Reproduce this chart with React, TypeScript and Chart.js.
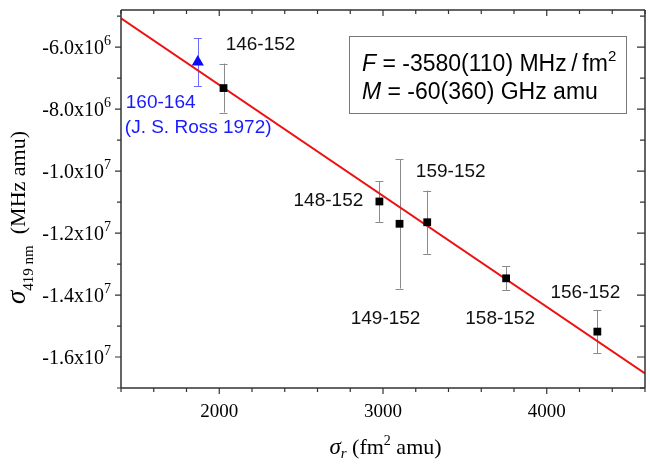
import React, { useEffect, useRef } from "react";
import { Chart, registerables } from "chart.js";

Chart.register(...registerables);

// ---------- data ----------
const isotopePairs = ["146-152", "148-152", "149-152", "159-152", "158-152", "156-152"];
const sigmaR = [2026, 2978, 3101, 3270, 3752, 4309];
const sigma419 = [-7.32e6, -1.098e7, -1.17e7, -1.165e7, -1.346e7, -1.518e7];
const sigma419Err = [0.79e6, 0.66e6, 2.09e6, 1.02e6, 0.39e6, 0.7e6];

const rossPair = "160-164";
const rossNote = "(J. S. Ross 1972)";
const rossSigmaR = [1869];
const rossSigma419 = [-6.48e6];
const rossErr = [0.77e6];

const fitX = [1400, 4600];
const fitY = [-5.07e6, -1.653e7];

const xMajorTicks = [2000, 3000, 4000];
const xTickLabels = ["2000", "3000", "4000"];
const yMajorTicks = [-6e6, -8e6, -1e7, -1.2e7, -1.4e7, -1.6e7];
const yTickMantissas = ["-6.0x10", "-8.0x10", "-1.0x10", "-1.2x10", "-1.4x10", "-1.6x10"];
const yTickExponents = ["6", "6", "7", "7", "7", "7"];

const fitLine1 = ["F", " = -3580(110) MHz\u2009/\u2009fm", "2"];
const fitLine2 = ["M", " = -60(360) GHz amu"];

// ---------- layout / style constants ----------
const X_MIN = 1400, X_MAX = 4600, X_MINOR = 200;
const Y_MIN = -1.7e7, Y_MAX = -4.8e6, Y_MINOR = 1e6;
const SERIF = "'Liberation Serif', 'Times New Roman', serif";
const SANS = "'Liberation Sans', Arial, sans-serif";
const AXIS = "#333333";
// label offsets relative to each point (px)
const labelOffsets = [
  [37, -43],
  [-51, -1],
  [-14, 95],
  [23.5, -50],
  [-6, 40],
  [-12, -39],
];

function drawSegments(ctx: CanvasRenderingContext2D, segs: { t: string; font: string; dy: number }[], x: number, y: number, align: "left" | "center" | "right") {
  let total = 0;
  const widths = segs.map((s) => {
    ctx.font = s.font;
    const w = ctx.measureText(s.t).width;
    total += w;
    return w;
  });
  let cx = align === "left" ? x : align === "center" ? x - total / 2 : x - total;
  ctx.textAlign = "left";
  ctx.textBaseline = "alphabetic";
  segs.forEach((s, i) => {
    ctx.font = s.font;
    ctx.fillText(s.t, cx, y + s.dy);
    cx += widths[i];
  });
}

const decorPlugin = {
  id: "decor",
  beforeDatasetsDraw(chart: any) {
    const ctx: CanvasRenderingContext2D = chart.ctx;
    const xs = chart.scales.x, ys = chart.scales.y;
    const bar = (xv: number, yv: number, e: number, color: string) => {
      const px = xs.getPixelForValue(xv);
      const t = ys.getPixelForValue(yv + e);
      const b = ys.getPixelForValue(yv - e);
      ctx.strokeStyle = color;
      ctx.lineWidth = 1;
      ctx.beginPath();
      ctx.moveTo(Math.round(px) + 0.5, t);
      ctx.lineTo(Math.round(px) + 0.5, b);
      ctx.moveTo(px - 4, Math.round(t) + 0.5);
      ctx.lineTo(px + 4, Math.round(t) + 0.5);
      ctx.moveTo(px - 4, Math.round(b) + 0.5);
      ctx.lineTo(px + 4, Math.round(b) + 0.5);
      ctx.stroke();
    };
    ctx.save();
    sigmaR.forEach((xv, i) => bar(xv, sigma419[i], sigma419Err[i], "#8a8a8a"));
    rossSigmaR.forEach((xv, i) => bar(xv, rossSigma419[i], rossErr[i], "#6a6aff"));
    ctx.restore();
  },
  afterDatasetsDraw(chart: any) {
    const ctx: CanvasRenderingContext2D = chart.ctx;
    const xs = chart.scales.x, ys = chart.scales.y;
    const a = chart.chartArea;
    ctx.save();
    // axes frame
    ctx.strokeStyle = AXIS;
    ctx.lineWidth = 1.5;
    ctx.beginPath();
    ctx.moveTo(a.left, a.top);
    ctx.lineTo(a.right, a.top);
    ctx.moveTo(a.left, a.bottom);
    ctx.lineTo(a.right, a.bottom);
    ctx.moveTo(a.left, a.top);
    ctx.lineTo(a.left, a.bottom);
    ctx.moveTo(a.right, a.top);
    ctx.lineTo(a.right, a.bottom);
    ctx.stroke();

    // x ticks
    ctx.lineWidth = 1.2;
    ctx.beginPath();
    for (let v = X_MIN; v <= X_MAX + 1e-6; v += X_MINOR) {
      const major = xMajorTicks.includes(v);
      const len = major ? 6 : 4;
      const px = xs.getPixelForValue(v);
      ctx.moveTo(px, a.bottom);
      ctx.lineTo(px, a.bottom + len);
      ctx.moveTo(px, a.top);
      ctx.lineTo(px, a.top + len);
    }
    // y ticks
    for (let v = Y_MIN; v <= Y_MAX + 1; v += Y_MINOR) {
      const major = yMajorTicks.some((t) => Math.abs(t - v) < 1);
      const len = major ? 6 : 4;
      const py = ys.getPixelForValue(v);
      ctx.moveTo(a.left, py);
      ctx.lineTo(a.left - len, py);
      ctx.moveTo(a.right, py);
      ctx.lineTo(a.right - (major ? 8 : 5), py);
    }
    ctx.stroke();

    // tick labels
    ctx.fillStyle = "#000";
    ctx.font = `19px ${SERIF}`;
    ctx.textAlign = "center";
    ctx.textBaseline = "alphabetic";
    xMajorTicks.forEach((v, i) => {
      ctx.fillText(xTickLabels[i], xs.getPixelForValue(v), a.bottom + 29);
    });
    yMajorTicks.forEach((v, i) => {
      const py = ys.getPixelForValue(v);
      drawSegments(
        ctx,
        [
          { t: yTickMantissas[i], font: `20px ${SERIF}`, dy: 0 },
          { t: yTickExponents[i], font: `14px ${SERIF}`, dy: -9 },
        ],
        a.left - 10,
        py + 7,
        "right"
      );
    });

    // axis titles
    drawSegments(
      ctx,
      [
        { t: "σ", font: `italic 23px ${SERIF}`, dy: 0 },
        { t: "r", font: `italic 15px ${SERIF}`, dy: 4 },
        { t: " (fm", font: `22px ${SERIF}`, dy: 0 },
        { t: "2", font: `14px ${SERIF}`, dy: -9 },
        { t: " amu)", font: `22px ${SERIF}`, dy: 0 },
      ],
      (a.left + 650) / 2,
      454,
      "center"
    );
    ctx.save();
    ctx.translate(24.5, 217.5);
    ctx.rotate(-Math.PI / 2);
    drawSegments(
      ctx,
      [
        { t: "σ", font: `italic 27px ${SERIF}`, dy: 0 },
        { t: "419 nm", font: `15px ${SERIF}`, dy: 8 },
        { t: "  (MHz amu)", font: `22px ${SERIF}`, dy: 0 },
      ],
      0,
      0,
      "center"
    );
    ctx.restore();

    // point labels
    ctx.font = `19px ${SANS}`;
    ctx.textBaseline = "middle";
    ctx.textAlign = "center";
    ctx.fillStyle = "#111";
    isotopePairs.forEach((lab, i) => {
      const px = xs.getPixelForValue(sigmaR[i]);
      const py = ys.getPixelForValue(sigma419[i]);
      ctx.fillText(lab, px + labelOffsets[i][0], py + labelOffsets[i][1]);
    });
    ctx.fillStyle = "#1a1aff";
    ctx.textAlign = "left";
    const rx = xs.getPixelForValue(rossSigmaR[0]);
    const ry = ys.getPixelForValue(rossSigma419[0]);
    ctx.fillText(rossPair, rx - 72, ry + 41);
    ctx.fillText(rossNote, rx - 73, ry + 66);

    // fit result box
    ctx.strokeStyle = "#777";
    ctx.lineWidth = 1;
    ctx.strokeRect(349.5, 36.5, 277, 77);
    ctx.fillStyle = "#000";
    drawSegments(
      ctx,
      [
        { t: fitLine1[0], font: `italic 23px ${SANS}`, dy: 0 },
        { t: fitLine1[1], font: `23px ${SANS}`, dy: 0 },
        { t: fitLine1[2], font: `15px ${SANS}`, dy: -10 },
      ],
      362,
      71,
      "left"
    );
    drawSegments(
      ctx,
      [
        { t: fitLine2[0], font: `italic 23px ${SANS}`, dy: 0 },
        { t: fitLine2[1], font: `23px ${SANS}`, dy: 0 },
      ],
      362,
      99,
      "left"
    );
    ctx.restore();
  },
};

export default function App() {
  const ref = useRef<HTMLCanvasElement>(null);
  useEffect(() => {
    if (!ref.current) return;
    const chart = new Chart(ref.current, {
      type: "scatter",
      data: {
        datasets: [
          {
            type: "line",
            label: "fit",
            data: fitX.map((x, i) => ({ x, y: fitY[i] })),
            borderColor: "#ee1111",
            borderWidth: 2,
            pointRadius: 0,
            fill: false,
            order: 3,
          } as any,
          {
            label: "this work",
            data: sigmaR.map((x, i) => ({ x, y: sigma419[i] })),
            pointStyle: "rect",
            pointRadius: 5.5,
            backgroundColor: "#000",
            borderColor: "#000",
            borderWidth: 0,
            order: 1,
          },
          {
            label: "Ross 1972",
            data: rossSigmaR.map((x, i) => ({ x, y: rossSigma419[i] })),
            pointStyle: "triangle",
            pointRadius: 7,
            backgroundColor: "#0a0aff",
            borderColor: "#0a0aff",
            borderWidth: 0,
            order: 2,
          },
        ],
      },
      options: {
        animation: false,
        responsive: true,
        maintainAspectRatio: false,
        layout: { padding: { left: 121, top: 10, right: 1, bottom: 77 } },
        plugins: { legend: { display: false }, tooltip: { enabled: false } },
        scales: {
          x: { type: "linear", min: X_MIN, max: X_MAX, display: false },
          y: { type: "linear", min: Y_MIN, max: Y_MAX, display: false },
        },
      },
      plugins: [decorPlugin],
    });
    return () => chart.destroy();
  }, []);
  return (
    <div style={{ position: "absolute", left: 0, top: 0, width: 650, height: 465, overflow: "hidden", background: "#fff" }}>
      <div style={{ position: "relative", width: 652, height: 465 }}>
        <canvas ref={ref} />
      </div>
    </div>
  );
}
